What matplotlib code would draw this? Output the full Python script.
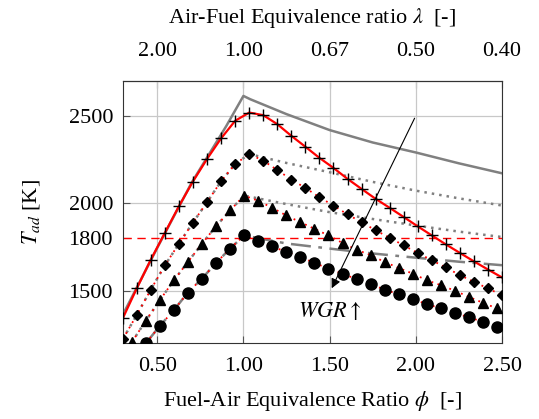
import matplotlib
matplotlib.use("Agg")
import matplotlib.pyplot as plt

plt.rcParams["font.family"] = ["Liberation Serif", "DejaVu Serif"]
plt.rcParams["mathtext.fontset"] = "stix"
plt.rcParams["font.size"] = 16

# black "+" marks with the red solid line
phi_plus = [0.300, 0.381, 0.463, 0.545, 0.626, 0.707, 0.789, 0.870, 0.952, 1.034,
            1.115, 1.196, 1.278, 1.359, 1.441, 1.522, 1.604, 1.685, 1.767, 1.848,
            1.930, 2.011, 2.093, 2.174, 2.256, 2.337, 2.419, 2.500]
T_plus = [1342, 1513, 1678, 1832, 1983, 2124, 2253, 2370, 2471, 2518,
          2503, 2452, 2385, 2323, 2259, 2202, 2139, 2082, 2025, 1974,
          1921, 1868, 1816, 1765, 1716, 1668, 1621, 1576]

# diamonds (same phi grid as the crosses)
T_dia = [1223, 1361, 1507, 1646, 1769, 1889, 2006, 2125, 2224, 2281,
         2243, 2190, 2135, 2088, 2034, 1987, 1936, 1892, 1845, 1803,
         1759, 1716, 1674, 1633, 1589, 1551, 1513, 1475]

# triangles and circles share a second, shifted grid
phi_b = [0.352, 0.434, 0.515, 0.597, 0.678, 0.760, 0.841, 0.923, 1.004, 1.086,
         1.167, 1.249, 1.330, 1.412, 1.493, 1.575, 1.656, 1.738, 1.819, 1.901,
         1.982, 2.064, 2.145, 2.227, 2.308, 2.390, 2.471]
T_tri = [1205, 1329, 1446, 1560, 1665, 1769, 1869, 1959, 2044, 2014,
         1974, 1930, 1892, 1854, 1816, 1773, 1735, 1703, 1665, 1630,
         1598, 1560, 1532, 1500, 1465, 1431, 1399]
T_circ = [None, 1200, 1299, 1390, 1490, 1570, 1659, 1741, 1816, 1782,
          1754, 1721, 1693, 1659, 1627, 1598, 1566, 1537, 1507, 1479,
          1452, 1424, 1399, 1374, 1348, 1323, 1295]

# gray reference curves
phi_gray = [0.30, 0.50, 0.70, 0.90, 1.00, 1.04, 1.25, 1.50, 1.75, 2.00, 2.25, 2.50]
T_gray = [1362, 1745, 2118, 2440, 2613, 2594, 2509, 2418, 2347, 2290, 2228, 2171]

phi_branch = [1.25, 1.50, 1.75, 2.00, 2.25, 2.50]
T_branch_dia = [2230, 2177, 2122, 2072, 2028, 1987]
T_branch_tri = [1995, 1949, 1910, 1873, 1838, 1807]
T_branch_circ = [1770, 1741, 1713, 1689, 1666, 1646]

top_ticks = [0.5, 1.0, 1.5, 2.0, 2.5]
top_labels = ["2.00", "1.00", "0.67", "0.50", "0.40"]
x_ticks = [0.5, 1.0, 1.5, 2.0, 2.5]
y_ticks = [1500, 1800, 2000, 2500]

fig = plt.figure(figsize=(5.39, 4.19), dpi=100)
ax = fig.add_axes([0.2277, 0.1807, 0.9314 - 0.2277, 0.8074 - 0.1807])

gray = "#808080"
ax.plot(phi_gray, T_gray, color=gray, lw=1.8, zorder=2)
ax.plot(phi_plus[:10] + phi_branch, T_dia[:10] + T_branch_dia, color=gray, lw=1.8, ls=(0, (1, 2)), zorder=2)
ax.plot(phi_b[:9] + phi_branch, T_tri[:9] + T_branch_tri, color=gray, lw=1.8, ls=(0, (1, 2)), zorder=2)
circ_x = [p for p, t in zip(phi_b, T_circ) if t is not None]
circ_y = [t for t in T_circ if t is not None]
ax.plot(circ_x[:8] + phi_branch, circ_y[:8] + T_branch_circ, color=gray, lw=1.8, ls=(0, (8, 3, 1.5, 3)), zorder=2)

ax.axhline(1800, color="red", lw=1.0, ls=(0, (6, 4)), zorder=2)

ax.plot(phi_plus, T_plus, color="red", lw=1.6, zorder=3)
ax.plot(phi_plus, T_plus, ls="none", marker="+", ms=8, mew=1.0, color="black", zorder=4)
ax.plot(phi_plus, T_dia, color="red", lw=1.3, ls=(0, (1, 2.5)), marker="D", ms=5, mfc="black", mec="black", zorder=4)
ax.plot(phi_b, T_tri, color="red", lw=1.3, ls=(0, (1, 2.5)), marker="^", ms=7, mfc="black", mec="black", zorder=4)
ax.plot(circ_x, circ_y, color="red", lw=1.3, ls=(0, (1, 2.5)), marker="o", ms=8, mfc="black", mec="black", zorder=4)

ax.annotate("", xy=(1.505, 1500), xytext=(2.0, 2500),
            arrowprops=dict(arrowstyle="-|>", color="black", lw=0.8, mutation_scale=14), zorder=5)
ax.text(1.5, 1384, r"$WGR\uparrow$", ha="center", va="center", fontsize=16)

ax.set_xlim(0.3, 2.5)
ax.set_ylim(1200, 2700)
ax.set_xticks(x_ticks)
ax.set_xticklabels([f"{v:.2f}" for v in x_ticks])
ax.set_yticks(y_ticks)
ax.grid(True, color="#c8c8c8", lw=0.9, zorder=0)
ax.yaxis.get_gridlines()[1].set_visible(False)
ax.set_axisbelow(True)
ax.tick_params(direction="in", length=5, color="#555555", pad=7)
ax.tick_params(axis="x", pad=10)
ax.set_xlabel(r"Fuel-Air Equivalence Ratio $\phi$  [-]", labelpad=9)
ax.set_ylabel(r"$T_{ad}$ [K]", labelpad=19)

top = ax.secondary_xaxis("top")
top.set_xticks(top_ticks)
top.set_xticklabels(top_labels)
top.tick_params(direction="in", length=5, color="#555555", pad=14)
top.set_xlabel(r"Air-Fuel Equivalence ratio $\lambda$  [-]", labelpad=14)

for s in ax.spines.values():
    s.set_color("#333333")

fig.savefig("out.png", dpi=100)
